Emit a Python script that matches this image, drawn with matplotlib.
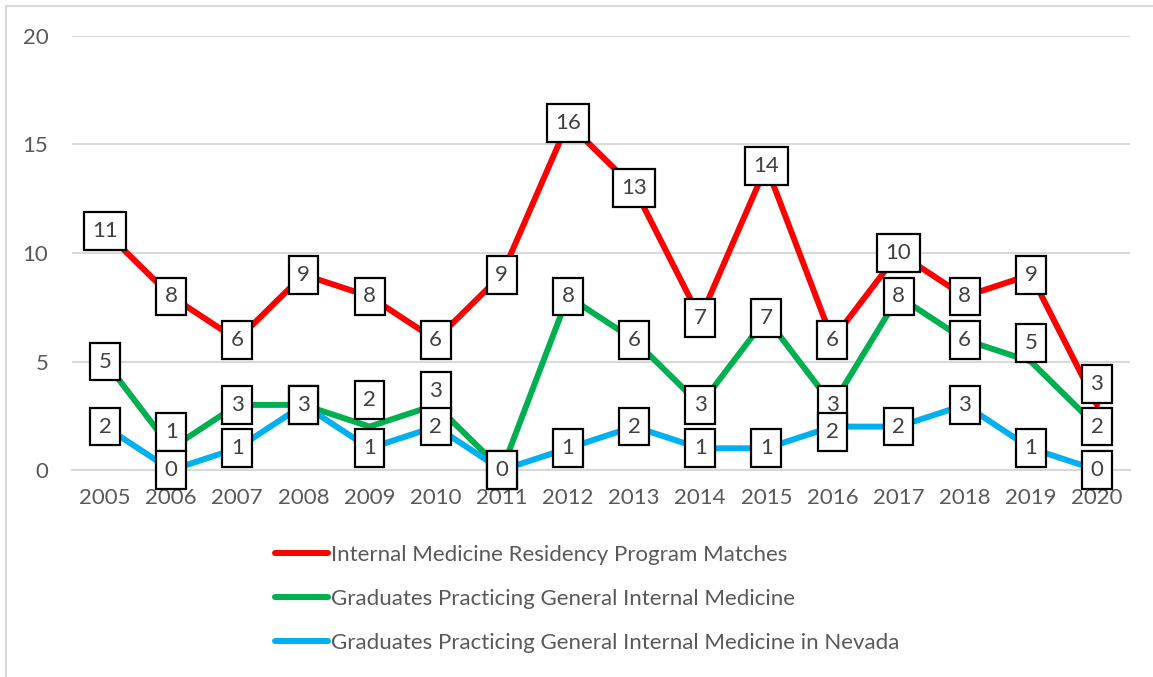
import matplotlib.pyplot as plt
from matplotlib.lines import Line2D
from matplotlib.path import Path

plt.rcParams['font.family'] = ['Lato', 'DejaVu Sans']

# chart data
years = ['2005', '2006', '2007', '2008', '2009', '2010', '2011', '2012',
         '2013', '2014', '2015', '2016', '2017', '2018', '2019', '2020']
matches = [11, 8, 6, 9, 8, 6, 9, 16, 13, 7, 14, 6, 10, 8, 9, 3]
practicing = [5, 1, 3, 3, 2, 3, 0, 8, 6, 3, 7, 3, 8, 6, 5, 2]
practicing_nv = [2, 0, 1, 3, 1, 2, 0, 1, 2, 1, 1, 2, 2, 3, 1, 0]
series_names = ['Internal Medicine Residency Program Matches',
                'Graduates Practicing General Internal Medicine',
                'Graduates Practicing General Internal Medicine in Nevada']

# styling
colors = ['#FF0000', '#00B050', '#00B0F0']
text_gray = '#595959'
grid_gray = '#D9D9D9'
# label nudges (y units) where the labels were moved off the point
nudges = [{15: 0.98}, {1: 0.75, 4: 1.22, 5: 0.63, 14: 0.85}, {11: -0.25}]


#Square box around a data label, wider than it is padded tall
def label_box(x0, y0, width, height, mutation_size):
    padx = 0.38 * mutation_size
    pady = 0.40 * mutation_size
    x0, x1 = x0 - padx, x0 + width + padx
    y0, y1 = y0 - pady, y0 + height + pady
    return Path([(x0, y0), (x1, y0), (x1, y1), (x0, y1), (x0, y0)],
                closed=True)


fig = plt.figure(figsize=(11.53, 6.77), dpi=100)
ax = fig.add_axes([72 / 1153, 1 - 470 / 677, (1130 - 72) / 1153, (470 - 36) / 677])

x = list(range(len(years)))
all_series = [matches, practicing, practicing_nv]
for vals, col, name in zip(all_series, colors, series_names):
    ax.plot(x, vals, color=col, lw=4.3, label=name, solid_capstyle='round',
            solid_joinstyle='round', zorder=3)

for s, (vals, nudge) in enumerate(zip(all_series, nudges)):
    for i, v in enumerate(vals):
        ax.text(i, v + nudge.get(i, 0), str(v), ha='center', va='center',
                fontsize=16, color='#404040', zorder=5 + s,
                bbox=dict(boxstyle=label_box, fc='white', ec='black', lw=1.6))

ax.set_xlim(-0.5, len(years) - 0.5)
ax.set_ylim(0, 20)
ax.set_yticks([0, 5, 10, 15, 20])
ax.set_xticks(x)
ax.set_xticklabels(years)
ax.grid(axis='y', color=grid_gray, lw=1.5)
ax.set_axisbelow(True)
for sp in ax.spines.values():
    sp.set_visible(False)
ax.spines['bottom'].set_visible(True)
ax.spines['bottom'].set_color(grid_gray)
ax.spines['bottom'].set_linewidth(1.5)
ax.tick_params(axis='both', length=0, labelsize=16, colors=text_gray)
ax.tick_params(axis='y', pad=17)
ax.tick_params(axis='x', pad=13)

fig.legend(loc='upper left', bbox_to_anchor=(255 / 1153, 1 - 525 / 677),
           frameon=False, fontsize=16, labelcolor=text_gray,
           handlelength=2.4, handletextpad=0.13, labelspacing=1.08)

# frame edges on the left and top only (the picture is cropped)
fig.add_artist(Line2D([5.5 / 1153, 5.5 / 1153], [0, 1 - 5.5 / 677],
                      transform=fig.transFigure, color=grid_gray, lw=1.5))
fig.add_artist(Line2D([5.5 / 1153, 1], [1 - 5.5 / 677, 1 - 5.5 / 677],
                      transform=fig.transFigure, color=grid_gray, lw=1.5))

fig.savefig('out.png', dpi=100, facecolor='white')
